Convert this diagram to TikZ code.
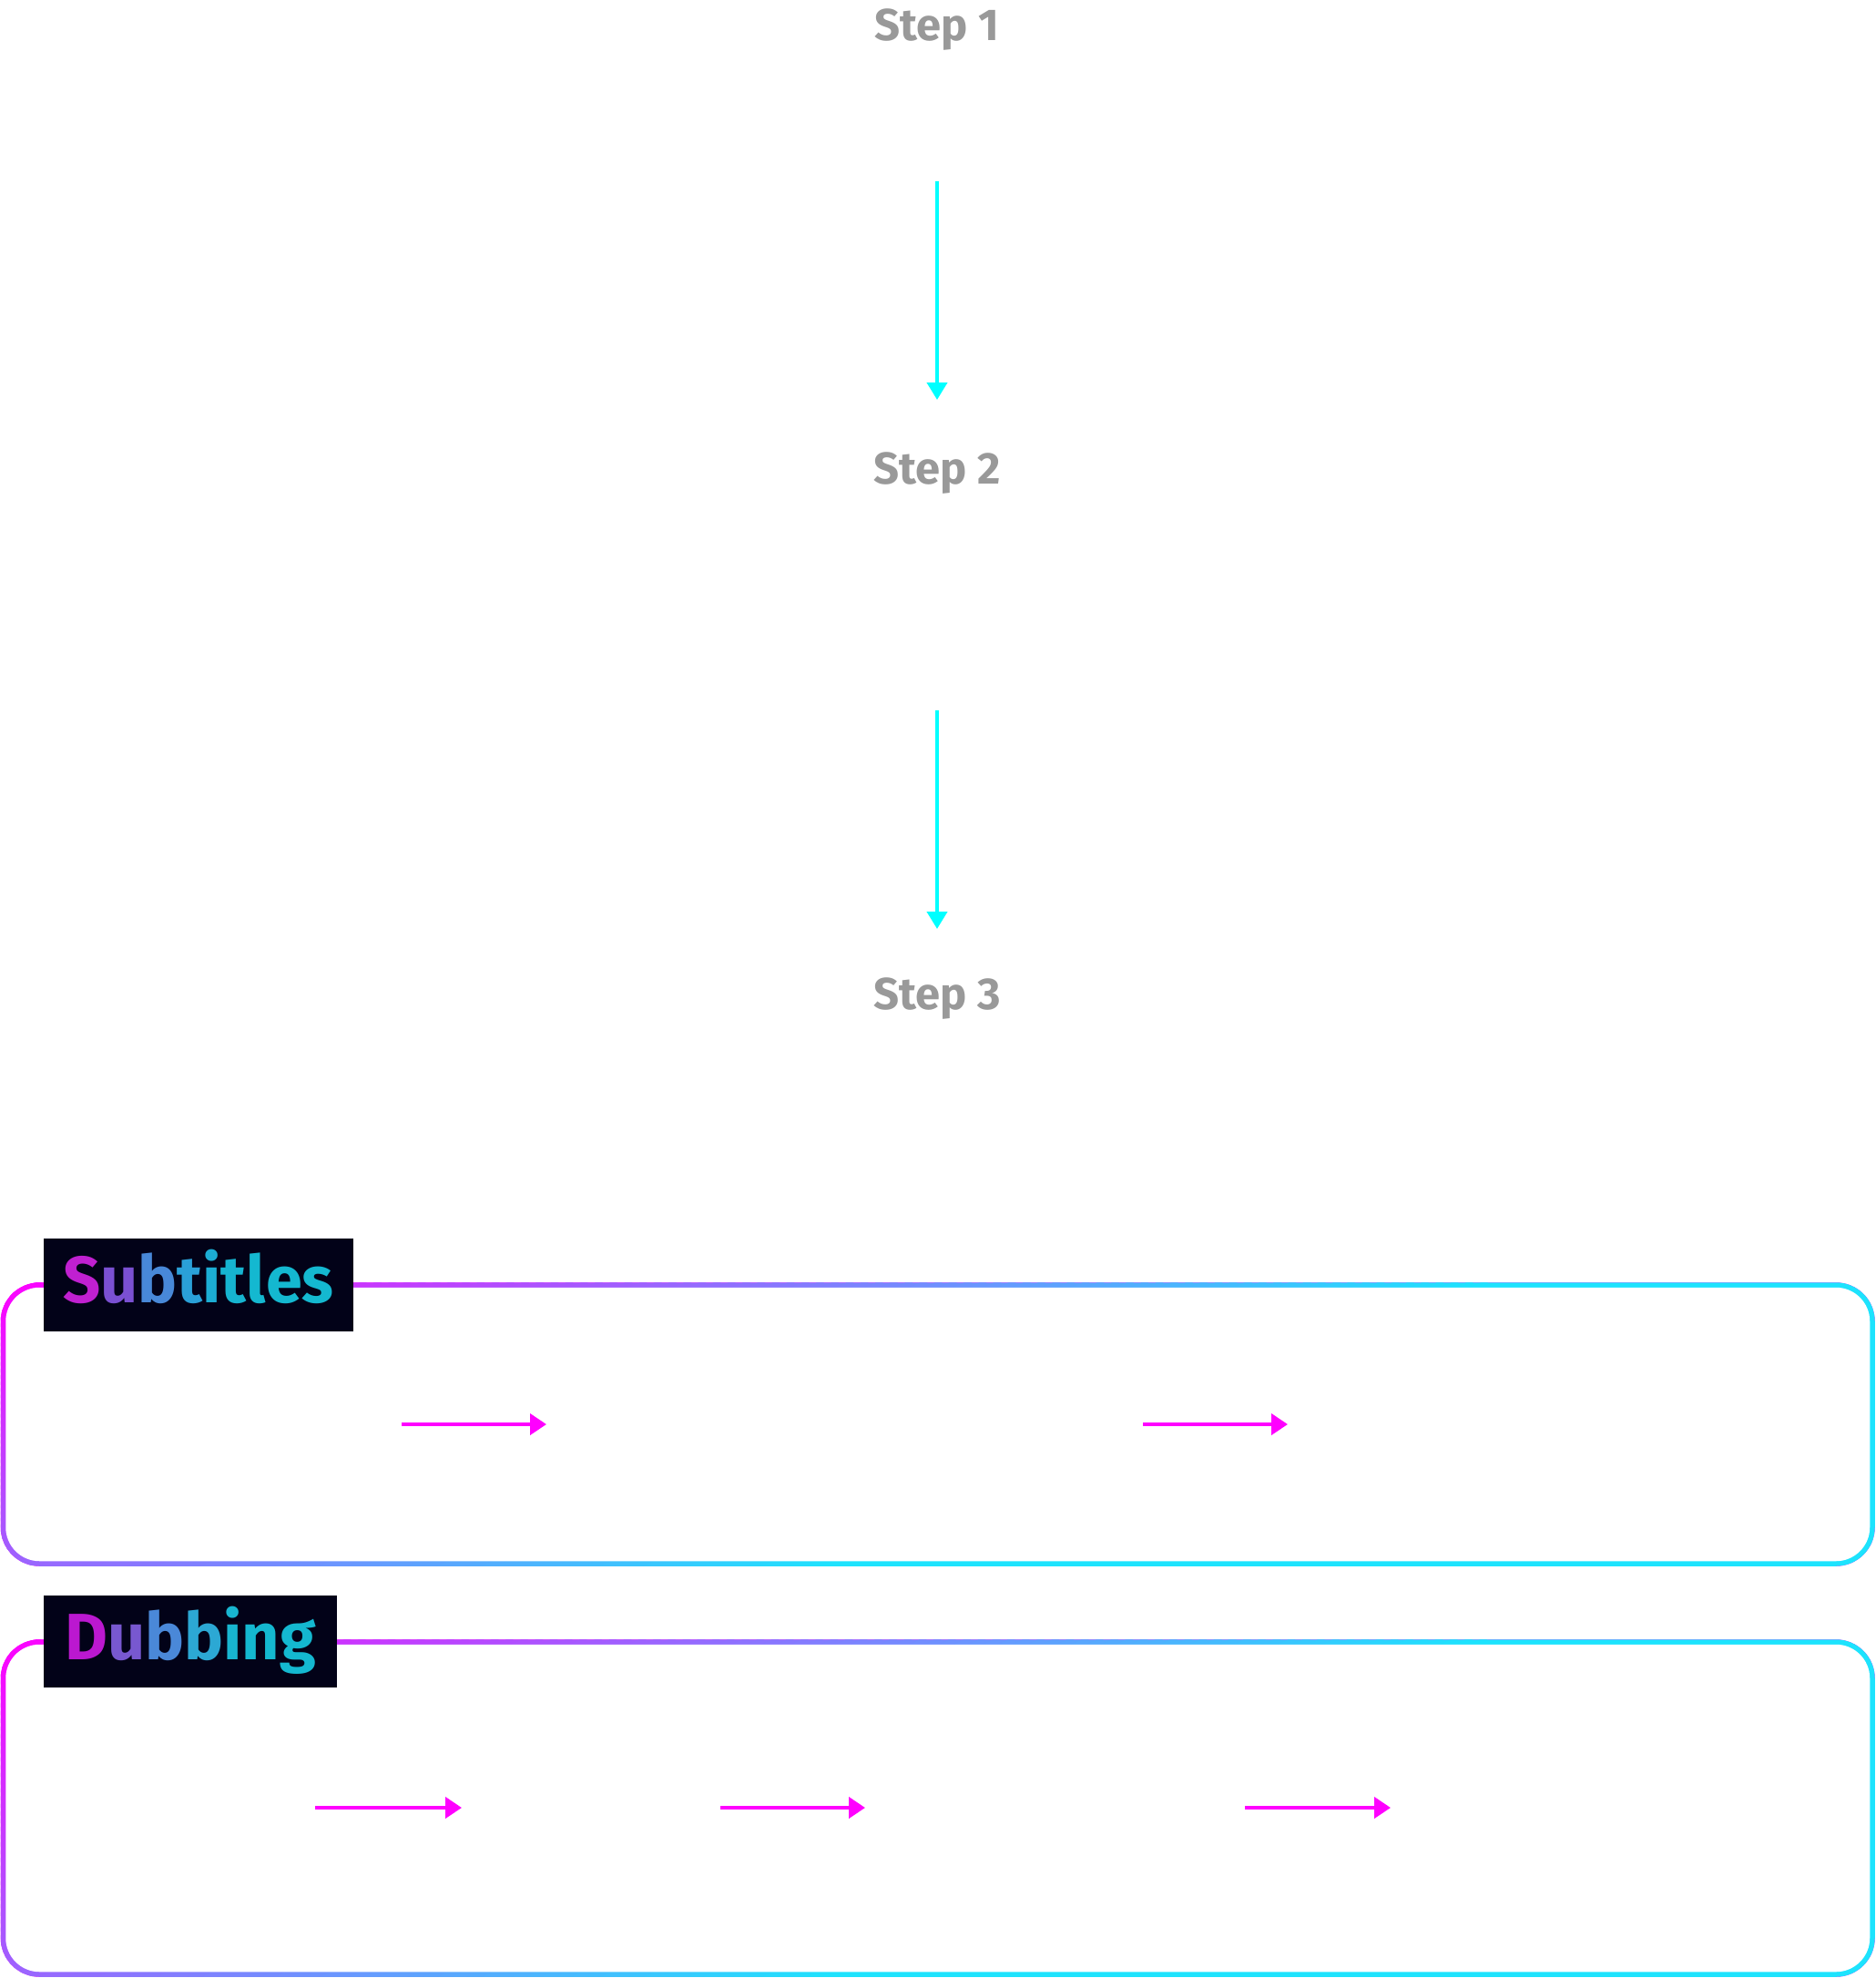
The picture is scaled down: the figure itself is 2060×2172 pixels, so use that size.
\documentclass[tikz,border=0pt]{standalone}
\usepackage{fontspec}
\setmainfont{Fira Sans}
\usetikzlibrary{arrows.meta}

\definecolor{stepgray}{HTML}{999999}
\definecolor{flowcyan}{HTML}{00FFFF}
\definecolor{flowmag}{HTML}{FF00FF}
\definecolor{edgemag}{HTML}{FF00FF}
\definecolor{edgecyan}{HTML}{1DE3FD}
\definecolor{tagbg}{HTML}{020218}

\tikzset{
  steplabel/.style={text=stepgray, font=\fontsize{49}{58}\selectfont\bfseries, inner sep=0pt},
  tagtext/.style={font=\fontsize{72}{86}\selectfont\bfseries, inner sep=0pt},
  tagbox/.style={fill=tagbg, draw=none},
  downflow/.style={draw=flowcyan, line width=4pt, -{Triangle[width=22pt,length=19pt]}},
  sideflow/.style={draw=flowmag, line width=4pt, -{Triangle[width=23pt,length=18pt]}},
}

% letter-by-letter colouring for the tag titles
\newcommand{\lc}[2]{{\color[HTML]{#1}#2}}

% rounded frame whose stroke runs from magenta (top left) to cyan (right)
% #1 = y of the top edge, #2 = y of the bottom edge (stroke centre lines)
\newcommand{\gradframe}[2]{%
  \begin{scope}
    \clip[rounded corners=42.75pt] (0.75,#1-2.75) rectangle (2058.75,#2+2.75);
    \pgfmathsetmacro\fh{#2-#1}
    \pgfmathsetmacro\dxtop{6966/\fh}
    \pgfmathsetmacro\dxbot{696.6*(1+10/\fh)}
    \fill[edgemag] (-20,#1-10) rectangle (2080,#2+10);
    \foreach \i in {0,...,99}{
      \pgfmathsetmacro\ta{\i/100}
      \pgfmathsetmacro\tb{(\i+1.5)/100}
      \pgfmathsetmacro\mix{\i+0.5}
      \fill[edgecyan!\mix!edgemag]
        ({1620*\ta+\dxtop},#1-10) -- ({1620*\tb+\dxtop},#1-10) --
        ({1620*\tb-\dxbot},#2+10) -- ({1620*\ta-\dxbot},#2+10) -- cycle;
    }
    \fill[edgecyan] ({1620+\dxtop},#1-10) -- (2080,#1-10) --
      (2080,#2+10) -- ({1620-\dxbot},#2+10) -- cycle;
  \end{scope}
  \fill[white, rounded corners=37.25pt] (6.25,#1+2.75) rectangle (2053.25,#2-2.75);
}

\begin{document}
\begin{tikzpicture}[x=1pt,y=-1pt]
  \fill[white] (0,0) rectangle (2060,2172);
  \useasboundingbox (0,0) rectangle (2060,2172);

  % vertical pipeline
  \node[steplabel, anchor=base] (step1) at (1029,44) {Step 1};
  \node[steplabel, anchor=base] (step2) at (1029,531) {Step 2};
  \node[steplabel, anchor=base] (step3) at (1029,1108) {Step 3};

  \coordinate (s1out) at (1029,199);
  \coordinate (s2in)  at (1029,439);
  \coordinate (s2out) at (1029,780);
  \coordinate (s3in)  at (1029,1020);
  \draw[downflow] (s1out) -- (s2in);
  \draw[downflow] (s2out) -- (s3in);

  % subtitles lane
  \gradframe{1411}{1717}
  \fill[tagbox] (48,1360) rectangle (388,1462);
  \node[tagtext, anchor=base] (subtitles) at (218,1430)
    {\lc{C020D0}{S}\lc{7A50D2}{u}\lc{4888D8}{b}\lc{2AA0D8}{t}\lc{1CADD4}{i}\lc{16B4D0}{t}\lc{14B8D0}{l}\lc{14B8D0}{e}\lc{14B8D0}{s}};

  \coordinate (sa1) at (441,1564);
  \coordinate (sa2) at (600,1564);
  \coordinate (sb1) at (1255,1564);
  \coordinate (sb2) at (1414,1564);
  \draw[sideflow] (sa1) -- (sa2);
  \draw[sideflow] (sb1) -- (sb2);

  % dubbing lane
  \gradframe{1803}{2168}
  \fill[tagbox] (48,1752) rectangle (370,1853);
  \node[tagtext, anchor=base] (dubbing) at (209,1822)
    {\lc{BB18D0}{D}\lc{7858D0}{u}\lc{4A88D8}{b}\lc{2CA8D4}{b}\lc{18B5D0}{i}\lc{14B8D0}{n}\lc{14B8D0}{g}};

  \coordinate (da1) at (346,1985);
  \coordinate (da2) at (507,1985);
  \coordinate (db1) at (791,1985);
  \coordinate (db2) at (950,1985);
  \coordinate (dc1) at (1367,1985);
  \coordinate (dc2) at (1527,1985);
  \draw[sideflow] (da1) -- (da2);
  \draw[sideflow] (db1) -- (db2);
  \draw[sideflow] (dc1) -- (dc2);
\end{tikzpicture}
\end{document}
